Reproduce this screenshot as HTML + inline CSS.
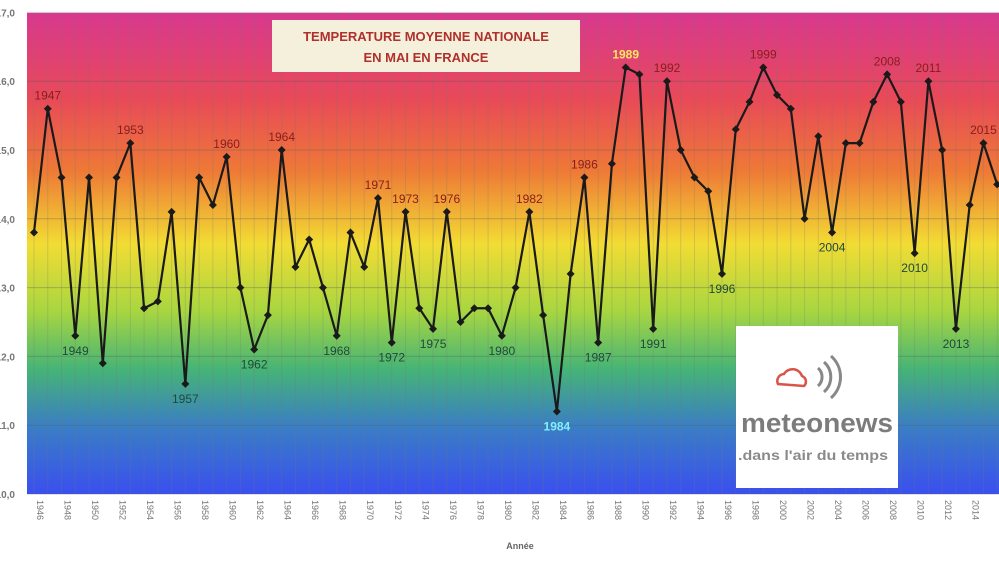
<!DOCTYPE html>
<html><head><meta charset="utf-8"><style>
html,body{margin:0;padding:0;background:#fff;width:999px;height:562px;overflow:hidden}
</style></head><body>
<svg id="s" width="999" height="562" xmlns="http://www.w3.org/2000/svg" font-family="Liberation Sans, sans-serif">
<defs>
<linearGradient id="g" x1="0" y1="0" x2="0" y2="1">
<stop offset="0" stop-color="#d8388e"/>
<stop offset="0.18" stop-color="#e84a58"/>
<stop offset="0.33" stop-color="#ee7a36"/>
<stop offset="0.48" stop-color="#f2dc34"/>
<stop offset="0.62" stop-color="#a8d640"/>
<stop offset="0.74" stop-color="#46b476"/>
<stop offset="0.86" stop-color="#3a7ec4"/>
<stop offset="1" stop-color="#3a4ff0"/>
</linearGradient>
</defs>
<rect x="27" y="13" width="972" height="481" fill="url(#g)"/>
<g id="grid"></g>
<g id="line"></g>
<g id="lab"></g>
<rect x="272" y="20" width="308" height="52" fill="#f4f0dc"/>
<text x="426" y="41" text-anchor="middle" font-size="13" font-weight="bold" fill="#b0302c">TEMPERATURE MOYENNE NATIONALE</text>
<text x="426" y="62" text-anchor="middle" font-size="13" font-weight="bold" fill="#b0302c">EN MAI EN FRANCE</text>
<rect x="736" y="326" width="162" height="162" fill="#fff"/>
<path d="M778 384 a7 7 0 0 1 6-10 a10 10 0 0 1 18 2 a6 6 0 0 1 2 10 z" fill="none" stroke="#d9544a" stroke-width="2.5"/>
<path d="M818 368 a12 12 0 0 1 0 18 M824 362 a20 20 0 0 1 0 30 M831 356 a28 28 0 0 1 0 42" fill="none" stroke="#888" stroke-width="3"/>
<text x="817" y="432" text-anchor="middle" font-size="27" font-weight="bold" fill="#7c7c7c" textLength="152" lengthAdjust="spacingAndGlyphs">meteonews</text>
<text x="813" y="460" text-anchor="middle" font-size="14" font-weight="bold" fill="#8a8a8a" textLength="150" lengthAdjust="spacingAndGlyphs">.dans l'air du temps</text>
<g id="ax" font-size="10" fill="#777"></g>
<text x="520" y="549" text-anchor="middle" font-size="9" font-weight="bold" fill="#666">Année</text>
</svg>
<script>
(function(){
var d=[13.8,15.6,14.6,12.3,14.6,11.9,14.6,15.1,12.7,12.8,14.1,11.6,14.6,14.2,14.9,13.0,12.1,12.6,15.0,13.3,13.7,13.0,12.3,13.8,13.3,14.3,12.2,14.1,12.7,12.4,14.1,12.5,12.7,12.7,12.3,13.0,14.1,12.6,11.2,13.2,14.6,12.2,14.8,16.2,16.1,12.4,16.0,15.0,14.6,14.4,13.2,15.3,15.7,16.2,15.8,15.6,14.0,15.2,13.8,15.1,15.1,15.7,16.1,15.7,13.5,16.0,15.0,12.4,14.2,15.1,14.5];
var NS="http://www.w3.org/2000/svg";
function X(i){return 34+i*13.76}function Y(v){return 494-(v-10)*68.8}
function el(t,a,p,txt){var e=document.createElementNS(NS,t);for(var k in a)e.setAttribute(k,a[k]);if(txt)e.textContent=txt;document.getElementById(p).appendChild(e);return e}
for(var i=0;i<71;i++){el('line',{x1:X(i),x2:X(i),y1:13,y2:494,stroke:'rgba(120,120,120,0.25)','stroke-width':1},'grid');}
for(var v=10;v<=17;v++){el('line',{x1:27,x2:999,y1:Y(v),y2:Y(v),stroke:'rgba(90,90,90,0.35)','stroke-width':1},'grid');
el('text',{x:15,y:Y(v)+4,'text-anchor':'end','font-weight':'bold'},'ax',v+',0');}
var pts=d.map(function(v,i){return X(i)+','+Y(v)}).join(' ');
el('polyline',{points:pts,fill:'none',stroke:'#1a1a1a','stroke-width':2.2},'line');
d.forEach(function(v,i){var x=X(i),y=Y(v);el('path',{d:'M'+x+' '+(y-4)+'L'+(x+4)+' '+y+'L'+x+' '+(y+4)+'L'+(x-4)+' '+y+'Z',fill:'#1a1a1a'},'line');});
for(var i=0;i<71;i+=2){var x=X(i)+3;el('text',{x:x,y:500,transform:'rotate(90 '+x+' 500)','font-size':9},'ax',''+(1946+i));}
var tops=[1947,1953,1960,1964,1971,1973,1976,1982,1986,1989,1992,1999,2008,2011,2015];
var bots=[1949,1957,1962,1968,1972,1975,1980,1984,1987,1991,1996,2004,2010,2013];
tops.forEach(function(y){var i=y-1946;el('text',{x:X(i),y:Y(d[i])-9,'text-anchor':'middle','font-size':12,fill:y==1989?'#f8e860':'#8a1c1c','font-weight':y==1989?'bold':'normal'},'lab',''+y);});
bots.forEach(function(y){var i=y-1946;var c=Y(d[i])>400?'#1a2a60':'#1e4a3a';el('text',{x:X(i),y:Y(d[i])+19,'text-anchor':'middle','font-size':12,fill:y==1984?'#80f0ff':c,'font-weight':y==1984?'bold':'normal'},'lab',''+y);});
})();
</script>
</body></html>
